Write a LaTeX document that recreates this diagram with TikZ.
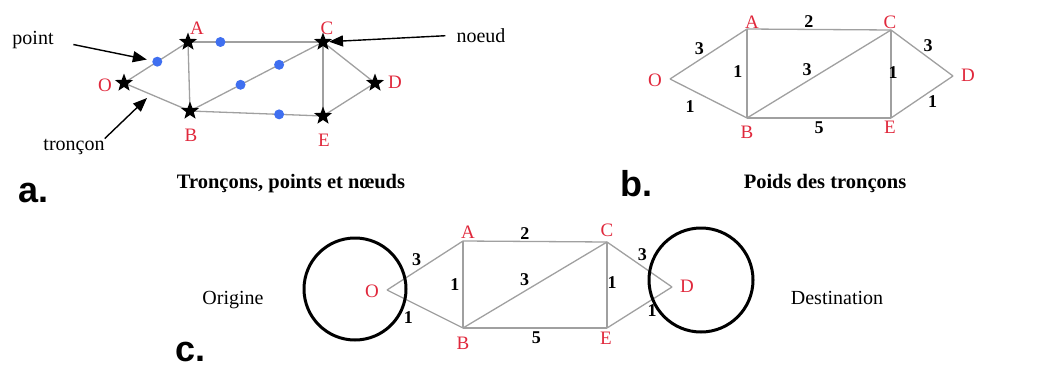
\documentclass[tikz,border=0pt]{standalone}
\usepackage{fontspec}
\setmainfont{Liberation Serif}
\newfontfamily\panelfont{Liberation Sans}
\usetikzlibrary{arrows.meta,positioning,shapes.geometric,backgrounds}
\definecolor{vtxred}{HTML}{E0283C}
\definecolor{seggray}{HTML}{A0A0A0}
\definecolor{ptblue}{HTML}{3F6FF0}

\begin{document}
\begin{tikzpicture}[
  x=1pt, y=-1pt,
  txt/.style={font=\fontsize{20}{24}\selectfont, inner sep=0pt, anchor=base},
  vlbl/.style={text=vtxred, font=\fontsize{19}{22}\selectfont, inner sep=0pt},
  wt/.style={text=black, font=\bfseries\fontsize{18}{22}\selectfont, inner sep=1pt},
  nd/.style={star, star points=5, star point ratio=2.4, fill=black, inner sep=0pt, minimum size=19pt},
  pnt/.style={circle, fill=ptblue, inner sep=0pt, minimum size=10pt},
  seg/.style={seggray, line width=1.3pt},
  arr/.style={-{Triangle[length=14pt, width=11pt]}, line width=1.4pt},
  zone/.style={draw, line width=3pt},
  caption/.style={font=\bfseries\fontsize{20.5}{24}\selectfont, inner sep=0pt, anchor=base},
  panel/.style={font=\panelfont\bfseries\fontsize{36}{40}\selectfont, inner sep=0pt, anchor=base west}
]
\useasboundingbox (0,0) rectangle (1054,369);

% a. troncons, points et noeuds
\node[nd] (aO) at (124,83) {};
\node[nd] (aA) at (188,42) {};
\node[nd] (aB) at (190,111) {};
\node[nd] (aC) at (323,42) {};
\node[nd] (aD) at (375,83) {};
\node[nd] (aE) at (323,116) {};
\begin{scope}[on background layer]
\draw[seg] (aO.center) -- (aA.center) node[pnt, pos=0.52] (p1) {};
\draw[seg] (aA.center) -- (aC.center) node[pnt, pos=0.24] (p2) {};
\draw[seg] (aB.center) -- (aC.center) node[pnt, pos=0.38] (p3) {}
                                      node[pnt, pos=0.67] (p4) {};
\draw[seg] (aB.center) -- (aE.center) node[pnt, pos=0.67] (p5) {};
\draw[seg] (aO.center) -- (aB.center);
\draw[seg] (aA.center) -- (aB.center);
\draw[seg] (aC.center) -- (aE.center);
\draw[seg] (aC.center) -- (aD.center);
\draw[seg] (aE.center) -- (aD.center);
\end{scope}
\node[vlbl] (aOl) at (105,85) {O};
\node[vlbl] (aAl) at (197,28) {A};
\node[vlbl] (aBl) at (191,135) {B};
\node[vlbl] (aCl) at (327,28) {C};
\node[vlbl] (aDl) at (395,82) {D};
\node[vlbl] (aEl) at (324,140) {E};

\node[txt] (tpoint) at (33,45) {point};
\node[txt] (tnoeud) at (481,42) {noeud};
\node[txt] (ttroncon) at (74,150) {tronçon};
\coordinate (tipseg) at (147,98);
\draw[arr, shorten <=20pt, shorten >=5pt] (tpoint.east) -- (p1);
\draw[arr, shorten <=11pt] (tnoeud.west) -- (aC);
\draw[arr] (ttroncon.north east) -- (tipseg);

\node[panel] (pa) at (18,202) {a.};
\node[caption] (capa) at (291,188) {Tronçons, points et nœuds};

% b. poids des troncons
\coordinate (bO) at (670,79);
\coordinate (bA) at (747,29);
\coordinate (bB) at (747,118);
\coordinate (bC) at (891,30);
\coordinate (bE) at (891,118);
\coordinate (bD) at (953,76);
\draw[seg] (bO) -- (bA) node[wt, pos=0.46, anchor=south east] {3};
\draw[seg] (bO) -- (bB) node[wt, pos=0.26, below=10pt] {1};
\draw[seg] (bA) -- (bC) node[wt, pos=0.43, anchor=south] {2};
\draw[seg] (bA) -- (bB) node[wt, pos=0.48, left=3pt] {1};
\draw[seg] (bB) -- (bC) node[wt, pos=0.46, anchor=south east] {3};
\draw[seg] (bB) -- (bE) node[wt, pos=0.5, below=2pt] {5};
\draw[seg] (bC) -- (bE) node[wt, pos=0.48, xshift=2pt] {1};
\draw[seg] (bC) -- (bD) node[wt, pos=0.5, anchor=south west] {3};
\draw[seg] (bE) -- (bD) node[wt, pos=0.57, anchor=north west] {1};
\node[vlbl] (bOl) at (655,80) {O};
\node[vlbl] (bAl) at (752,22) {A};
\node[vlbl] (bBl) at (747,132) {B};
\node[vlbl] (bCl) at (890,22) {C};
\node[vlbl] (bDl) at (968,75) {D};
\node[vlbl] (bEl) at (890,127) {E};

\node[panel] (pb) at (620,196) {b.};
\node[caption] (capb) at (825,188) {Poids des tronçons};

% c. origine et destination
\coordinate (cO) at (387,290);
\coordinate (cA) at (463,241);
\coordinate (cB) at (463,328);
\coordinate (cC) at (607,242);
\coordinate (cE) at (607,328);
\coordinate (cD) at (672,287);
\draw[seg] (cO) -- (cA) node[wt, pos=0.47, anchor=south east] {3};
\draw[seg] (cO) -- (cB) node[wt, pos=0.28, below=9pt] {1};
\draw[seg] (cA) -- (cC) node[wt, pos=0.43, anchor=south] {2};
\draw[seg] (cA) -- (cB) node[wt, pos=0.5, left=2pt] {1};
\draw[seg] (cB) -- (cC) node[wt, pos=0.47, anchor=south east] {3};
\draw[seg] (cB) -- (cE) node[wt, pos=0.51, below=2pt] {5};
\draw[seg] (cC) -- (cE) node[wt, pos=0.47, xshift=5pt] {1};
\draw[seg] (cC) -- (cD) node[wt, pos=0.45, anchor=south west] {3};
\draw[seg] (cE) -- (cD) node[wt, pos=0.6, anchor=north west] {1};
\node[vlbl] (cOl) at (372,291) {O};
\node[vlbl] (cAl) at (468,232) {A};
\node[vlbl] (cBl) at (463,343) {B};
\node[vlbl] (cCl) at (607,230) {C};
\node[vlbl] (cDl) at (687,286) {D};
\node[vlbl] (cEl) at (606,338) {E};
\draw[zone] (355,289) circle[radius=51];
\draw[zone] (701,280) circle[radius=52];
\node[txt] (torig) at (233,304) {Origine};
\node[txt] (tdest) at (837,304) {Destination};

\node[panel] (pc) at (175,361) {c.};

\end{tikzpicture}
\end{document}
